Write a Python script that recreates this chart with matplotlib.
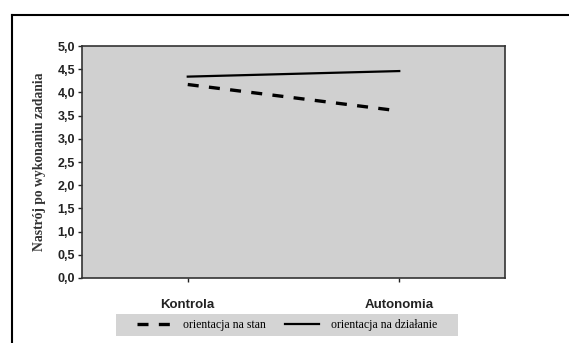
import matplotlib.pyplot as plt
from matplotlib.lines import Line2D
from matplotlib.patches import Rectangle

# dane: nastrój po wykonaniu zadania w dwóch warunkach
warunki = ['Kontrola', 'Autonomia']
orientacja_stan = [4.17, 3.60]
orientacja_dzialanie = [4.34, 4.46]
yticks = [0.0, 0.5, 1.0, 1.5, 2.0, 2.5, 3.0, 3.5, 4.0, 4.5, 5.0]

fig = plt.figure(figsize=(5.69, 3.43), dpi=100)
W, H = 569, 343

# ramka wokół całego wykresu
fig.add_artist(Line2D([12 / W, 1], [1 - 15 / H, 1 - 15 / H], color='black', lw=1.5))
fig.add_artist(Line2D([12 / W, 12 / W], [0, 1 - 15 / H], color='black', lw=1.5))

ax = fig.add_axes([82 / W, 1 - 278 / H, 423 / W, 232 / H])
ax.set_facecolor('#d0d0d0')

x = range(len(warunki))
ax.plot(x, orientacja_stan, color='black', lw=2.4, dashes=[3.3, 3.1],
        label='orientacja na stan')
ax.plot(x, orientacja_dzialanie, color='black', lw=1.6,
        label='orientacja na działanie')

ax.set_xlim(-0.5, 1.5)
ax.set_ylim(0, 5)
ax.set_yticks(yticks)
ax.set_yticklabels([f'{v:.1f}'.replace('.', ',') for v in yticks],
                   fontfamily='Liberation Sans', fontweight='bold', fontsize=9)
ax.set_xticks(list(x))
ax.set_xticklabels(warunki, fontfamily='Liberation Sans', fontweight='bold', fontsize=9.5)
ax.tick_params(axis='y', direction='out', length=3, width=1, pad=2, colors='#222222')
ax.tick_params(axis='x', direction='out', length=3, width=1, pad=12, colors='#222222')
for s in ax.spines.values():
    s.set_color('#333333')
    s.set_linewidth(1.2)

ax.set_ylabel('Nastrój po wykonaniu zadania', fontfamily='Liberation Serif',
              fontweight='bold', fontsize=9.8, color='#333333', labelpad=8)

# szare tło legendy
fig.add_artist(Rectangle((116 / W, 1 - 336 / H), 342 / W, 22 / H,
                         transform=fig.transFigure, facecolor='#d4d4d4', edgecolor='none'))
leg = fig.legend(loc='center', bbox_to_anchor=(287 / W, 1 - 325 / H), ncol=2,
                 frameon=False, handlelength=2.9, columnspacing=1.6, handletextpad=1.0,
                 prop={'family': 'Liberation Serif', 'size': 8.5})

fig.savefig('out.png', dpi=100)
